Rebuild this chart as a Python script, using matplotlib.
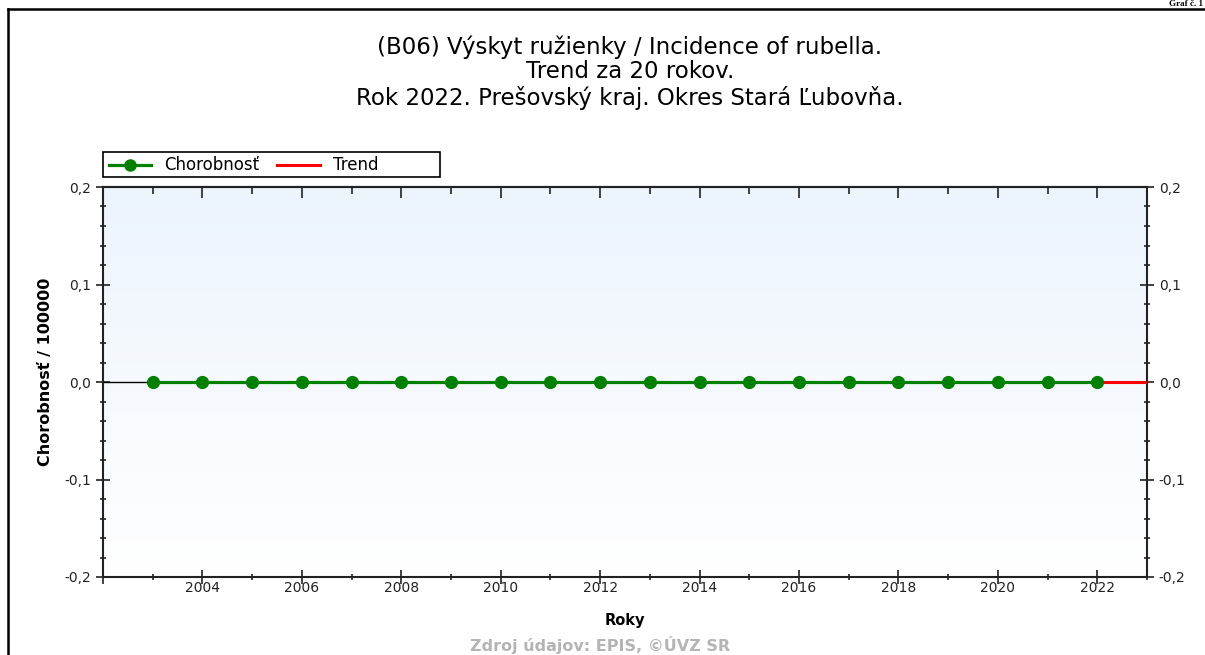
import numpy as np
import matplotlib
matplotlib.use("Agg")
import matplotlib.pyplot as plt
import matplotlib.lines as mlines
import matplotlib.patches as patches
from matplotlib.ticker import MultipleLocator, FuncFormatter, NullFormatter

plt.rcParams['font.family'] = ['DejaVu Sans']

# data
years = list(range(2003, 2023))
incidence = [0.0] * len(years)
trend_years = [2022, 2023]
trend_values = [0.0, 0.0]

title_lines = ["(B06) Výskyt ružienky / Incidence of rubella.",
               "Trend za 20 rokov.",
               "Rok 2022. Prešovský kraj. Okres Stará Ľubovňa."]

W, H = 1205, 655
fig = plt.figure(figsize=(W / 100, H / 100), dpi=100)
ax = fig.add_axes([103 / W, 1 - 577 / H, 1044 / W, 390 / H])

def fx(px):
    return px / W

def fy(py):
    return 1 - py / H

# background gradient
grad = np.linspace(0, 1, 256).reshape(-1, 1)
top_c = np.array([0.925, 0.957, 0.992])
bot_c = np.array([1.0, 1.0, 1.0])
img = bot_c + (top_c - bot_c) * grad
ax.imshow(img[:, None, :].repeat(2, axis=1), extent=[2002, 2023, -0.2, 0.2],
          origin='lower', aspect='auto', zorder=0)

green = '#008000'
red = '#ff0000'

# lines
ax.plot([2002, years[0]], [0, 0], color='black', linewidth=1, zorder=2)
ax.plot(trend_years, trend_values, color=red, linewidth=2.2, zorder=3)
ax.plot(years, incidence, color=green, linewidth=2.3, marker='o',
        markersize=8.5, zorder=4, clip_on=False)

ax.set_xlim(2002, 2023)
ax.set_ylim(-0.2, 0.2)

ax.xaxis.set_major_locator(MultipleLocator(2))
ax.xaxis.set_minor_locator(MultipleLocator(1))
ax.yaxis.set_major_locator(MultipleLocator(0.1))
ax.yaxis.set_minor_locator(MultipleLocator(0.02))

def fmt_y(v, pos):
    s = f"{v:.1f}".replace('.', ',')
    if s == "-0,0":
        s = "0,0"
    return s

def fmt_x(v, pos):
    v = int(round(v))
    if v < 2004:
        return ""
    return str(v)

ax.yaxis.set_major_formatter(FuncFormatter(fmt_y))
ax.xaxis.set_major_formatter(FuncFormatter(fmt_x))

ax.tick_params(axis='both', which='both', direction='inout', top=False,
               right=True, labelright=True, labelsize=10, colors='#222222',
               width=1.2)
ax.tick_params(axis='both', which='major', length=10)
ax.tick_params(axis='both', which='minor', length=5)
ax.tick_params(axis='x', which='major', pad=-2)

# top axis: ticks pointing inward only
top = ax.secondary_xaxis('top')
top.xaxis.set_major_locator(MultipleLocator(2))
top.xaxis.set_minor_locator(MultipleLocator(1))
top.xaxis.set_major_formatter(NullFormatter())
top.tick_params(axis='x', which='both', direction='in', colors='#222222',
                width=1.2)
top.tick_params(axis='x', which='major', length=8)
top.tick_params(axis='x', which='minor', length=5)
top.spines['top'].set_linewidth(1.5)
top.spines['top'].set_color('#222222')

for side in ['left', 'bottom', 'right', 'top']:
    ax.spines[side].set_linewidth(1.5)
    ax.spines[side].set_color('#222222')

ax.set_xlabel("Roky", fontsize=10.5, fontweight='bold')
ax.xaxis.set_label_coords(0.5, -0.092)
ax.set_ylabel("Chorobnosť / 100000", fontsize=11.5, fontweight='bold')
ax.yaxis.set_label_coords(-0.048, 0.525)

# title
for text, py in zip(title_lines, [47, 72, 98]):
    fig.text(fx(630), fy(py), text, ha='center', va='center', fontsize=16.5)

# legend (drawn by hand to match the box)
fig.add_artist(patches.Rectangle((fx(103), fy(177)), fx(440) - fx(103),
                                 fy(152) - fy(177), transform=fig.transFigure,
                                 facecolor='white', edgecolor='black',
                                 linewidth=1.2))
ly = fy(165)
fig.add_artist(mlines.Line2D([fx(109), fx(151)], [ly, ly], color=green,
                             linewidth=2.3))
fig.add_artist(mlines.Line2D([fx(130)], [ly], color=green, marker='o',
                             markersize=8))
fig.text(fx(164), ly, "Chorobnosť", ha='left', va='center', fontsize=12)
fig.add_artist(mlines.Line2D([fx(277), fx(320)], [ly, ly], color=red,
                             linewidth=2.2))
fig.text(fx(333), ly, "Trend", ha='left', va='center', fontsize=12)

# outer frame lines
fig.add_artist(mlines.Line2D([fx(8), 1], [fy(9), fy(9)],
                             color='black', linewidth=1.8))
fig.add_artist(mlines.Line2D([fx(8), fx(8)], [0, fy(9)],
                             color='black', linewidth=1.8))

# page label
fig.text(fx(1203), fy(0), "Graf č. 1", ha='right', va='top',
         fontsize=6.5, fontweight='bold', family='Liberation Serif')

# source
fig.text(fx(600), fy(645), "Zdroj údajov: EPIS, ©ÚVZ SR",
         ha='center', va='center', fontsize=11.5, fontweight='bold',
         color='#b4b4b4')

fig.savefig("out.png", dpi=100)
